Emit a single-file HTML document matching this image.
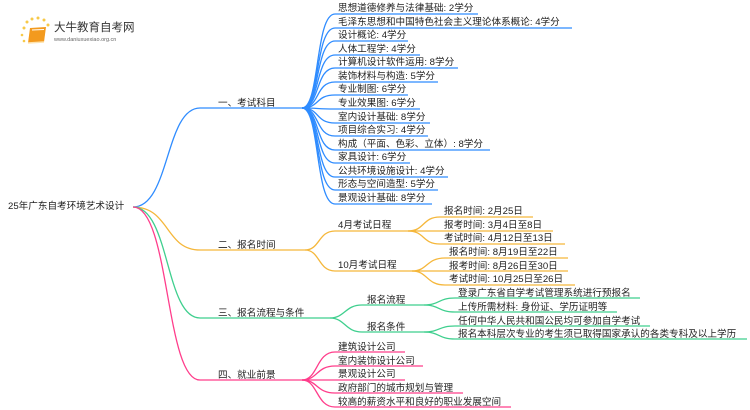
<!DOCTYPE html>
<html><head><meta charset="utf-8"><style>
html,body{margin:0;padding:0;background:#fff;}
svg{display:block}
text{font-family:"Liberation Sans","Noto Sans CJK SC",sans-serif;font-size:9.6px;fill:#222;}
.b{stroke:#2f8cff}.o{stroke:#f5b73b}.g{stroke:#3fcf8e}.p{stroke:#ff3d8b}
path{fill:none;stroke-width:1.3}
</style></head><body>
<svg width="750" height="410" viewBox="0 0 750 410">
<!-- logo -->
<g>
<circle cx="24" cy="28" r="1.5" fill="#f7c948"/><circle cx="27" cy="22" r="1.5" fill="#f7c948"/><circle cx="32" cy="19" r="1.5" fill="#f7c948"/><circle cx="38" cy="18" r="1.5" fill="#f7c948"/><circle cx="44" cy="20" r="1.5" fill="#f7c948"/><circle cx="48" cy="25" r="1.5" fill="#f7c948"/><circle cx="22" cy="35" r="1.3" fill="#f7c948"/><circle cx="24" cy="41" r="1.3" fill="#f7c948"/>
<path d="M30 28 L46 27 L44 42 L28 43 Z" style="fill:#f39a1e;stroke:none"/>
<path d="M32 30 L44 29.5" style="stroke:#fff;stroke-width:1"/>
<path d="M28 43 L44 42" style="stroke:#fde3b0;stroke-width:1.5"/>
<text x="54" y="31" style="font-size:11.5px;fill:#333">大牛教育自考网</text>
<text x="54" y="41" style="font-size:5.5px;fill:#666">www.daniuxuexiao.org.cn</text>
</g>
<!-- root -->
<text x="8" y="209">25年广东自考环境艺术设计</text>
<path class="b" d="M133 207 C170 207 165 108 200 108 H302"/>
<path class="o" d="M133 207 C170 207 165 250 200 250 H305"/>
<path class="g" d="M133 207 C170 207 165 318 200 318 H330"/>
<path class="p" d="M133 207 C170 207 165 380 200 380 H302"/>
<text x="218" y="106">一、考试科目</text>
<text x="218" y="248">二、报名时间</text>
<text x="218" y="316">三、报名流程与条件</text>
<text x="218" y="378">四、就业前景</text>
<!-- blue leaves -->
<path class="b" d="M302 108 C320 108 315 14 335 14 H478"/>
<path class="b" d="M302 108 C320 108 315 28 335 28 H572"/>
<path class="b" d="M302 108 C320 108 315 41 335 41 H408"/>
<path class="b" d="M302 108 C320 108 315 55 335 55 H420"/>
<path class="b" d="M302 108 C320 108 315 68 335 68 H458"/>
<path class="b" d="M302 108 C320 108 315 82 335 82 H438"/>
<path class="b" d="M302 108 C320 108 315 95 335 95 H408"/>
<path class="b" d="M302 108 C320 108 315 109 335 109 H420"/>
<path class="b" d="M302 108 C320 108 315 123 335 123 H430"/>
<path class="b" d="M302 108 C320 108 315 136 335 136 H428"/>
<path class="b" d="M302 108 C320 108 315 150 335 150 H490"/>
<path class="b" d="M302 108 C320 108 315 163 335 163 H410"/>
<path class="b" d="M302 108 C320 108 315 177 335 177 H448"/>
<path class="b" d="M302 108 C320 108 315 190 335 190 H438"/>
<path class="b" d="M302 108 C320 108 315 204 335 204 H432"/>
<text x="338" y="11">思想道德修养与法律基础: 2学分</text>
<text x="338" y="25">毛泽东思想和中国特色社会主义理论体系概论: 4学分</text>
<text x="338" y="38">设计概论: 4学分</text>
<text x="338" y="52">人体工程学: 4学分</text>
<text x="338" y="65">计算机设计软件运用: 8学分</text>
<text x="338" y="79">装饰材料与构造: 5学分</text>
<text x="338" y="92">专业制图: 6学分</text>
<text x="338" y="106">专业效果图: 6学分</text>
<text x="338" y="120">室内设计基础: 8学分</text>
<text x="338" y="133">项目综合实习: 4学分</text>
<text x="338" y="147">构成（平面、色彩、立体）: 8学分</text>
<text x="338" y="160">家具设计: 6学分</text>
<text x="338" y="174">公共环境设施设计: 4学分</text>
<text x="338" y="187">形态与空间造型: 5学分</text>
<text x="338" y="201">景观设计基础: 8学分</text>
<!-- orange -->
<path class="o" d="M305 250 C320 250 318 231 335 231 H408"/>
<path class="o" d="M305 250 C320 250 318 271 335 271 H412"/>
<text x="338" y="228">4月考试日程</text>
<text x="338" y="268">10月考试日程</text>
<path class="o" d="M408 231 C425 231 422 217 440 217 H533"/>
<path class="o" d="M408 231 H553"/>
<path class="o" d="M408 231 C425 231 422 244 440 244 H565"/>
<text x="444" y="214">报名时间: 2月25日</text>
<text x="444" y="228">报考时间: 3月4日至8日</text>
<text x="444" y="241">考试时间: 4月12日至13日</text>
<path class="o" d="M412 271 C428 271 426 258 445 258 H568"/>
<path class="o" d="M412 271 H568"/>
<path class="o" d="M412 271 C428 271 426 285 445 285 H575"/>
<text x="449" y="255">报名时间: 8月19日至22日</text>
<text x="449" y="269">报考时间: 8月26日至30日</text>
<text x="449" y="282">考试时间: 10月25日至26日</text>
<!-- green -->
<path class="g" d="M330 318 C345 318 345 305 362 305 H424"/>
<path class="g" d="M330 318 C345 318 345 332 362 332 H424"/>
<text x="367" y="303">报名流程</text>
<text x="367" y="330">报名条件</text>
<path class="g" d="M424 305 C440 305 438 298 455 298 H640"/>
<path class="g" d="M424 305 C440 305 438 312 455 312 H617"/>
<path class="g" d="M424 332 C440 332 438 326 455 326 H650"/>
<path class="g" d="M424 332 C440 332 438 339 455 339 H747"/>
<text x="458" y="296">登录广东省自学考试管理系统进行预报名</text>
<text x="458" y="310">上传所需材料: 身份证、学历证明等</text>
<text x="458" y="324">任何中华人民共和国公民均可参加自学考试</text>
<text x="458" y="337">报名本科层次专业的考生须已取得国家承认的各类专科及以上学历</text>
<!-- pink -->
<path class="p" d="M302 380 C318 380 316 352 335 352 H405"/>
<path class="p" d="M302 380 C318 380 316 366 335 366 H423"/>
<path class="p" d="M302 380 H405"/>
<path class="p" d="M302 380 C318 380 316 393 335 393 H463"/>
<path class="p" d="M302 380 C318 380 316 407 335 407 H511"/>
<text x="338" y="350">建筑设计公司</text>
<text x="338" y="364">室内装饰设计公司</text>
<text x="338" y="377">景观设计公司</text>
<text x="338" y="391">政府部门的城市规划与管理</text>
<text x="338" y="405">较高的薪资水平和良好的职业发展空间</text>
</svg>
</body></html>
